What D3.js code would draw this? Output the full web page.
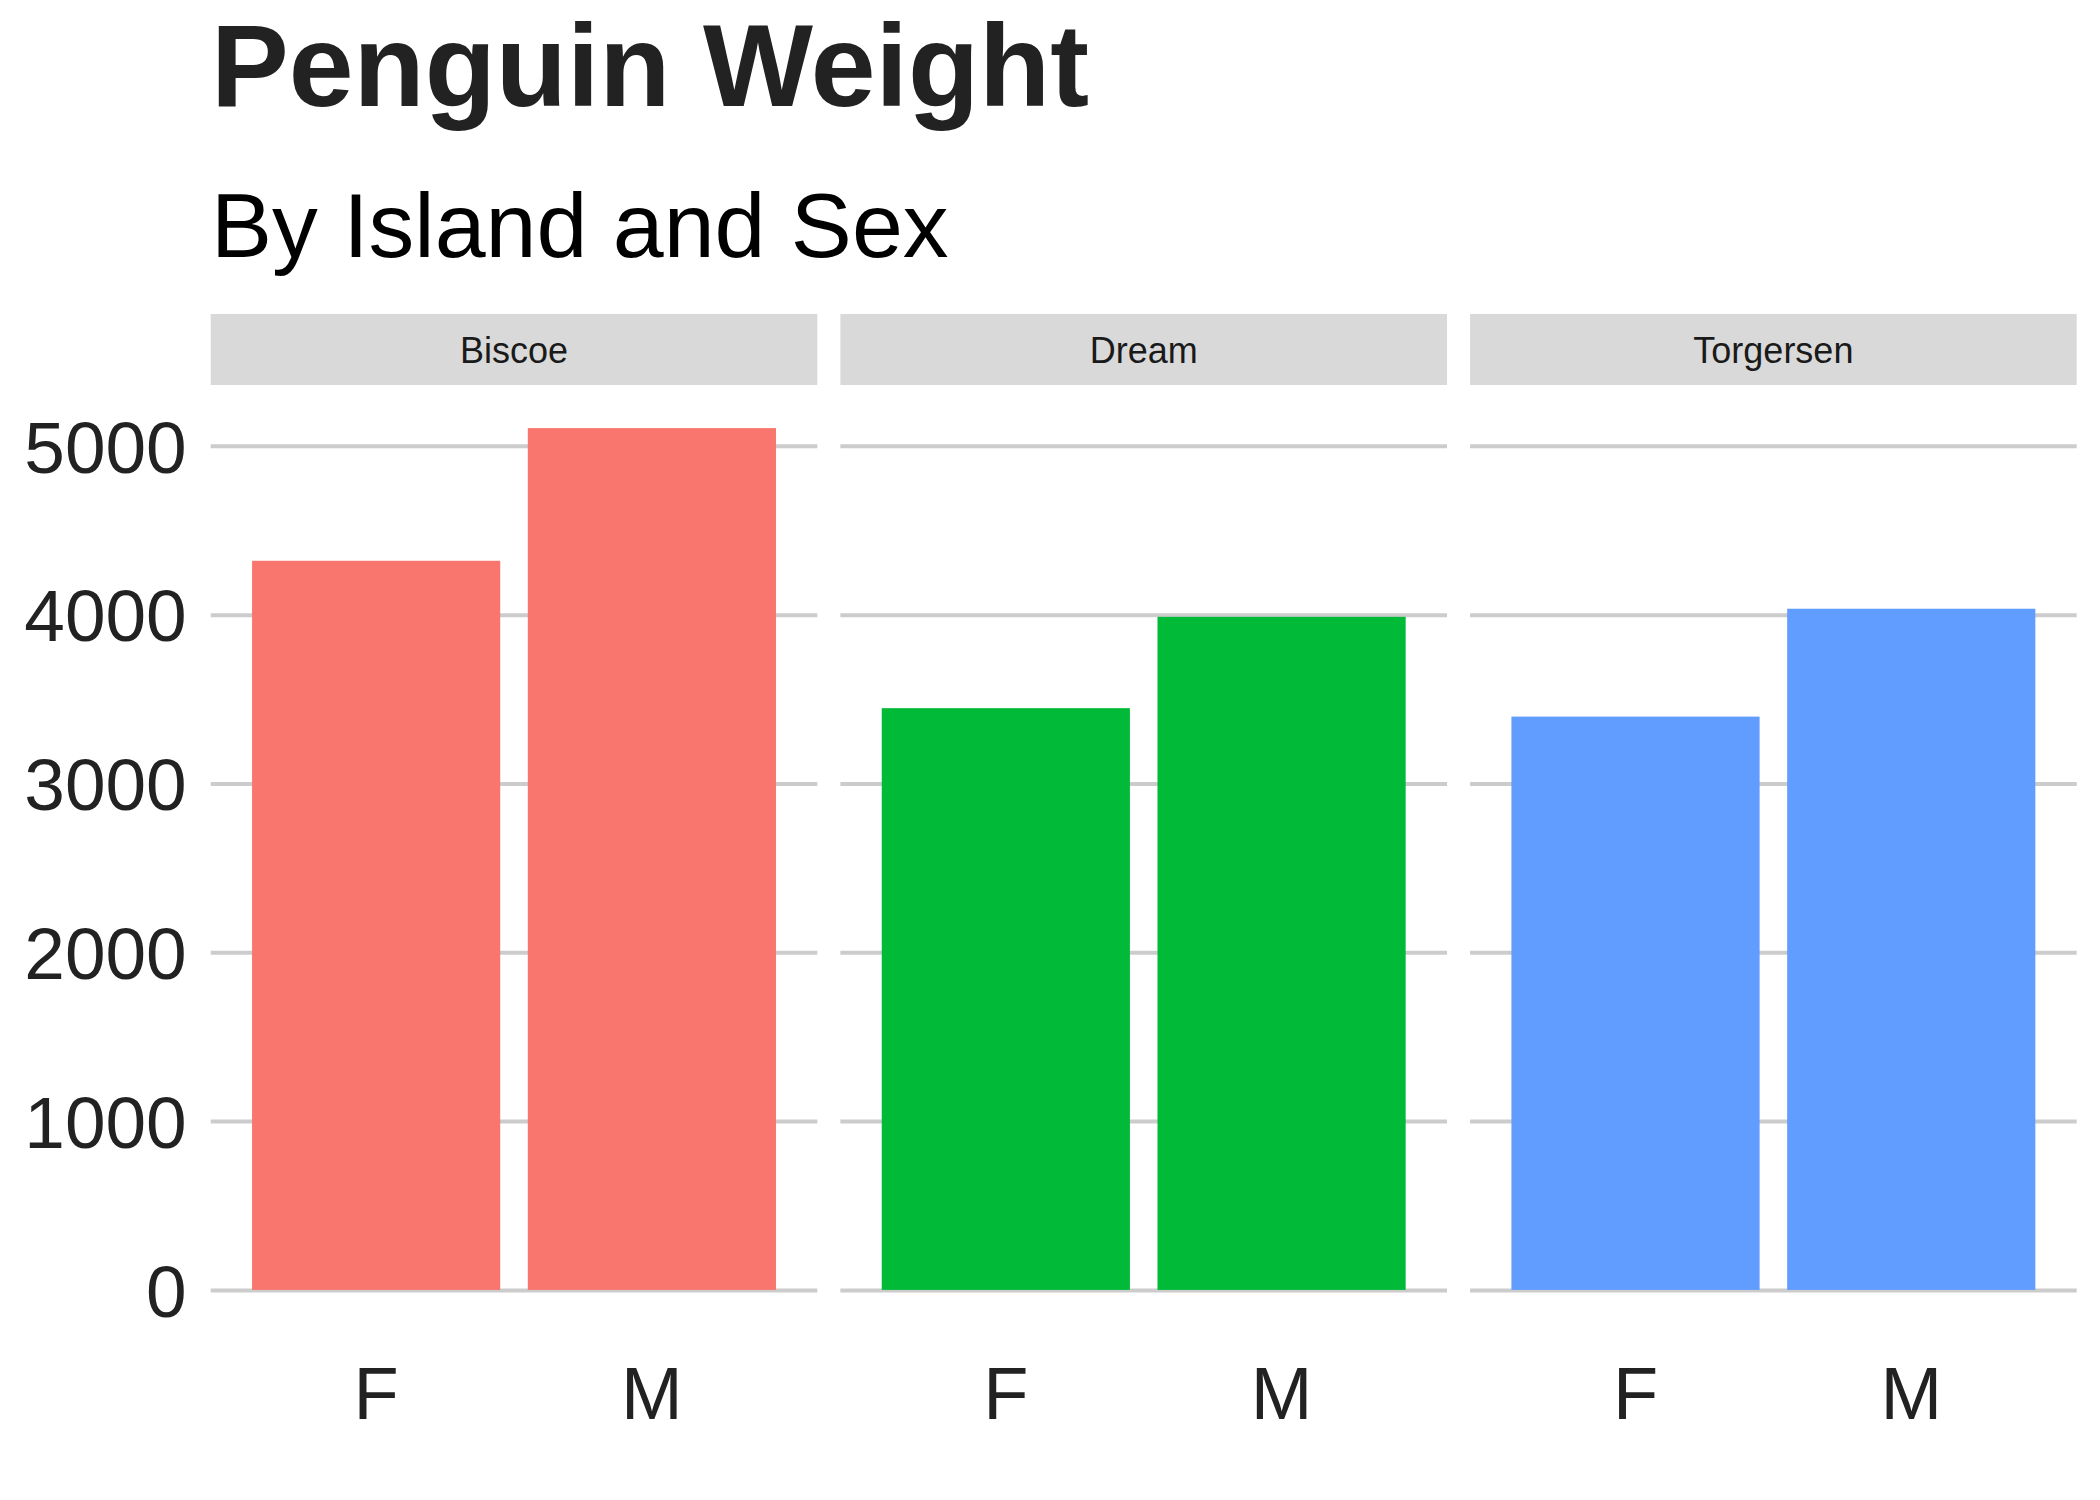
<!DOCTYPE html>
<html>
<head>
<meta charset="utf-8">
<script src="https://cdn.jsdelivr.net/npm/d3@7"></script>
<style>
  body { margin: 0; background: #fff; }
  text { font-family: "Liberation Sans", Arial, Helvetica, sans-serif; }
</style>
</head>
<body>
<div id="chart"></div>
<script>
var islands = ['Biscoe', 'Dream', 'Torgersen']
var sexes = ['F', 'M']
var weightF = [4319, 3446, 3396]
var weightM = [5105, 3987, 4035]
var yTicks = [0, 1000, 2000, 3000, 4000, 5000]
var islandColors = ['#F8766D', '#00BA38', '#619CFF']

var width = 2100
var height = 1500
var plotLeft = 210.7, plotRight = 2076.7
var stripTop = 314, stripBottom = 385
var panelBottom = 1333

var data = []
islands.forEach(function (isl, i) {
  data.push({island: isl, sex: 'F', w: weightF[i]})
  data.push({island: isl, sex: 'M', w: weightM[i]})
})

var svg = d3.select('#chart').append('svg')
  .attr('width', width)
  .attr('height', height)

svg.append('rect').attr('width', width).attr('height', height).attr('fill', '#fff')

// title + subtitle
svg.append('text')
  .attr('x', 211).attr('y', 106)
  .attr('font-size', 116.5).attr('font-weight', 'bold')
  .attr('fill', '#222222')
  .text('Penguin Weight')

svg.append('text')
  .attr('x', 211).attr('y', 257)
  .attr('font-size', 91.5)
  .attr('fill', '#000000')
  .text('By Island and Sex')

var fx = d3.scaleBand()
  .domain(islands)
  .range([plotLeft, plotRight])
  .paddingInner(0.0366)

var x = d3.scaleBand()
  .domain(sexes)
  .range([0, fx.bandwidth()])
  .paddingInner(0.1)
  .paddingOuter(0.15)

var ymax = d3.max(data, function (d) { return d.w })
var y = d3.scaleLinear()
  .domain([-0.05 * ymax, 1.05 * ymax])
  .range([panelBottom, stripBottom])

var color = d3.scaleOrdinal().domain(islands).range(islandColors)

var panels = svg.selectAll('g.panel')
  .data(islands)
  .enter().append('g')
  .attr('class', 'panel')
  .attr('transform', function (d) { return 'translate(' + fx(d) + ',0)' })

// strips
panels.append('rect')
  .attr('x', 0).attr('y', stripTop)
  .attr('width', fx.bandwidth())
  .attr('height', stripBottom - stripTop)
  .attr('fill', '#d9d9d9')

panels.append('text')
  .attr('x', fx.bandwidth() / 2)
  .attr('y', 363)
  .attr('text-anchor', 'middle')
  .attr('font-size', 36)
  .attr('fill', '#1a1a1a')
  .text(function (d) { return d })

// gridlines
panels.append('g')
  .attr('class', 'grid')
  .call(d3.axisLeft(y).tickValues(yTicks).tickSize(-fx.bandwidth()).tickFormat(''))
  .call(function (g) {
    g.select('.domain').remove()
    g.selectAll('line').attr('stroke', '#cccccc').attr('stroke-width', 4)
  })

// bars
panels.selectAll('rect.bar')
  .data(function (isl) { return data.filter(function (d) { return d.island === isl }) })
  .enter().append('rect')
  .attr('class', 'bar')
  .attr('x', function (d) { return x(d.sex) })
  .attr('width', x.bandwidth())
  .attr('y', function (d) { return y(d.w) })
  .attr('height', function (d) { return y(0) - y(d.w) })
  .attr('fill', function (d) { return color(d.island) })

// x labels
panels.append('g')
  .attr('transform', 'translate(0,1362)')
  .call(d3.axisBottom(x).tickSize(0).tickPadding(0))
  .call(function (g) {
    g.select('.domain').remove()
    g.selectAll('text')
      .attr('font-size', 74)
      .attr('fill', '#222222')
      .attr('font-family', '"Liberation Sans", Arial, sans-serif')
      .attr('dy', '0.77em')
  })

// y labels
svg.append('g')
  .attr('transform', 'translate(' + plotLeft + ',0)')
  .call(d3.axisLeft(y).tickValues(yTicks).tickSize(0).tickPadding(24).tickFormat(d3.format('d')))
  .call(function (g) {
    g.select('.domain').remove()
    g.selectAll('text')
      .attr('font-size', 73)
      .attr('fill', '#222222')
      .attr('font-family', '"Liberation Sans", Arial, sans-serif')
      .attr('dy', '0.36em')
  })
</script>
</body>
</html>
